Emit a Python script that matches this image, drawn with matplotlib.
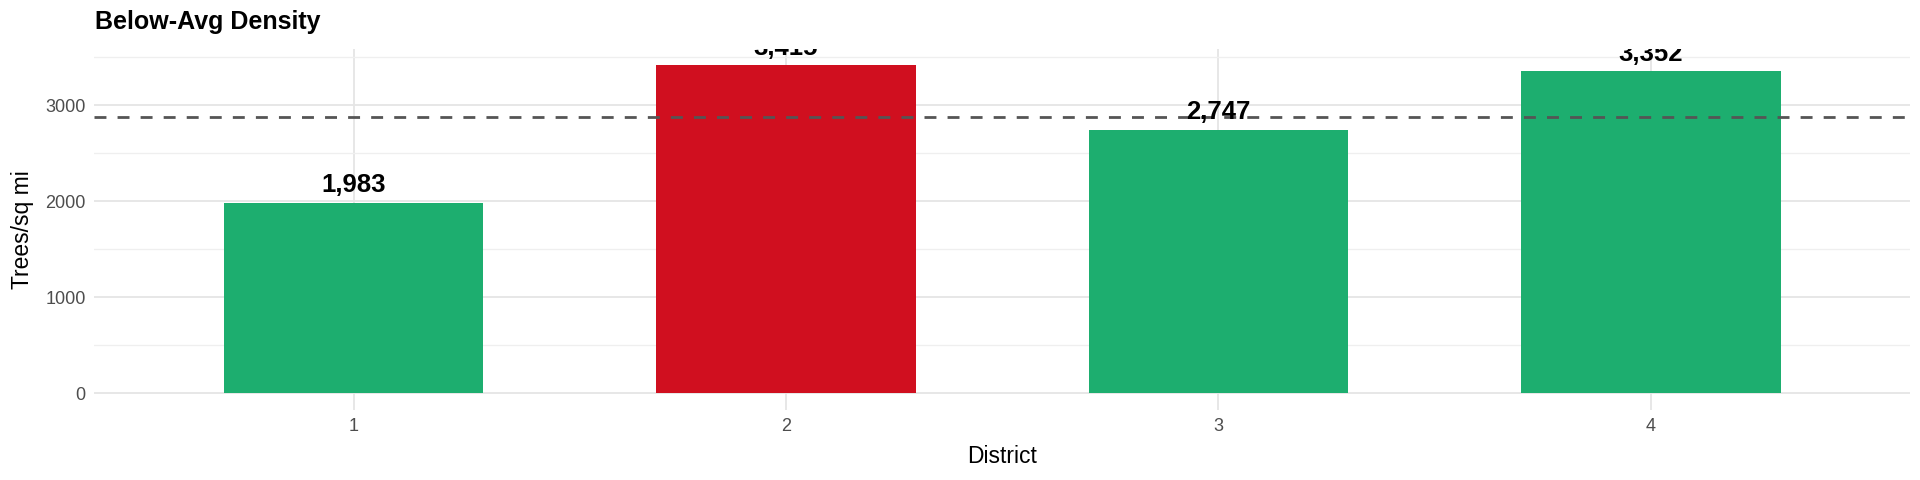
import matplotlib.pyplot as plt
from matplotlib.ticker import MultipleLocator

plt.rcParams['font.family'] = ['Liberation Sans', 'DejaVu Sans']

# Data
districts = ['1', '2', '3', '4']
density = [1983, 3415, 2747, 3352]
bar_colors = ['#1DAE6F', '#D00F1F', '#1DAE6F', '#1DAE6F']
avg_density = sum(density) / len(density)

fig = plt.figure(figsize=(19.2, 4.8), dpi=100)
ax = fig.add_axes([0.049, 0.146, 0.946, 0.752])

x = list(range(1, len(districts) + 1))
ax.bar(x, density, width=0.6, color=bar_colors, zorder=2)
ax.axhline(avg_density, color='#555555', linestyle=(0, (4.3, 4.0)), linewidth=2.0, zorder=3)

for xi, v in zip(x, density):
    ax.annotate(f'{v:,}', (xi, v), xytext=(0, 4), textcoords='offset points',
                ha='center', va='bottom', fontsize=18.5, fontweight='bold',
                color='black', zorder=4, annotation_clip=False, clip_on=True)

ax.set_xlim(0.4, 4.6)
ax.set_ylim(-171, 3586)
ax.set_xticks(x)
ax.set_xticklabels(districts)
ax.yaxis.set_major_locator(MultipleLocator(1000))
ax.yaxis.set_minor_locator(MultipleLocator(500))

ax.grid(which='major', color='#E5E5E5', linewidth=1.3, zorder=0)
ax.grid(which='minor', axis='y', color='#EFEFEF', linewidth=0.9, zorder=0)
ax.set_axisbelow(True)
for s in ax.spines.values():
    s.set_visible(False)
ax.tick_params(which='both', length=0, labelsize=13, labelcolor='#4D4D4D', pad=6)

ax.set_xlabel('District', fontsize=16.5, labelpad=7)
ax.set_ylabel('Trees/sq mi', fontsize=16.5, labelpad=8)
fig.text(0.0495, 0.93, 'Below-Avg Density', fontsize=18, fontweight='bold', ha='left', va='bottom')

plt.savefig('out.png', dpi=100)
